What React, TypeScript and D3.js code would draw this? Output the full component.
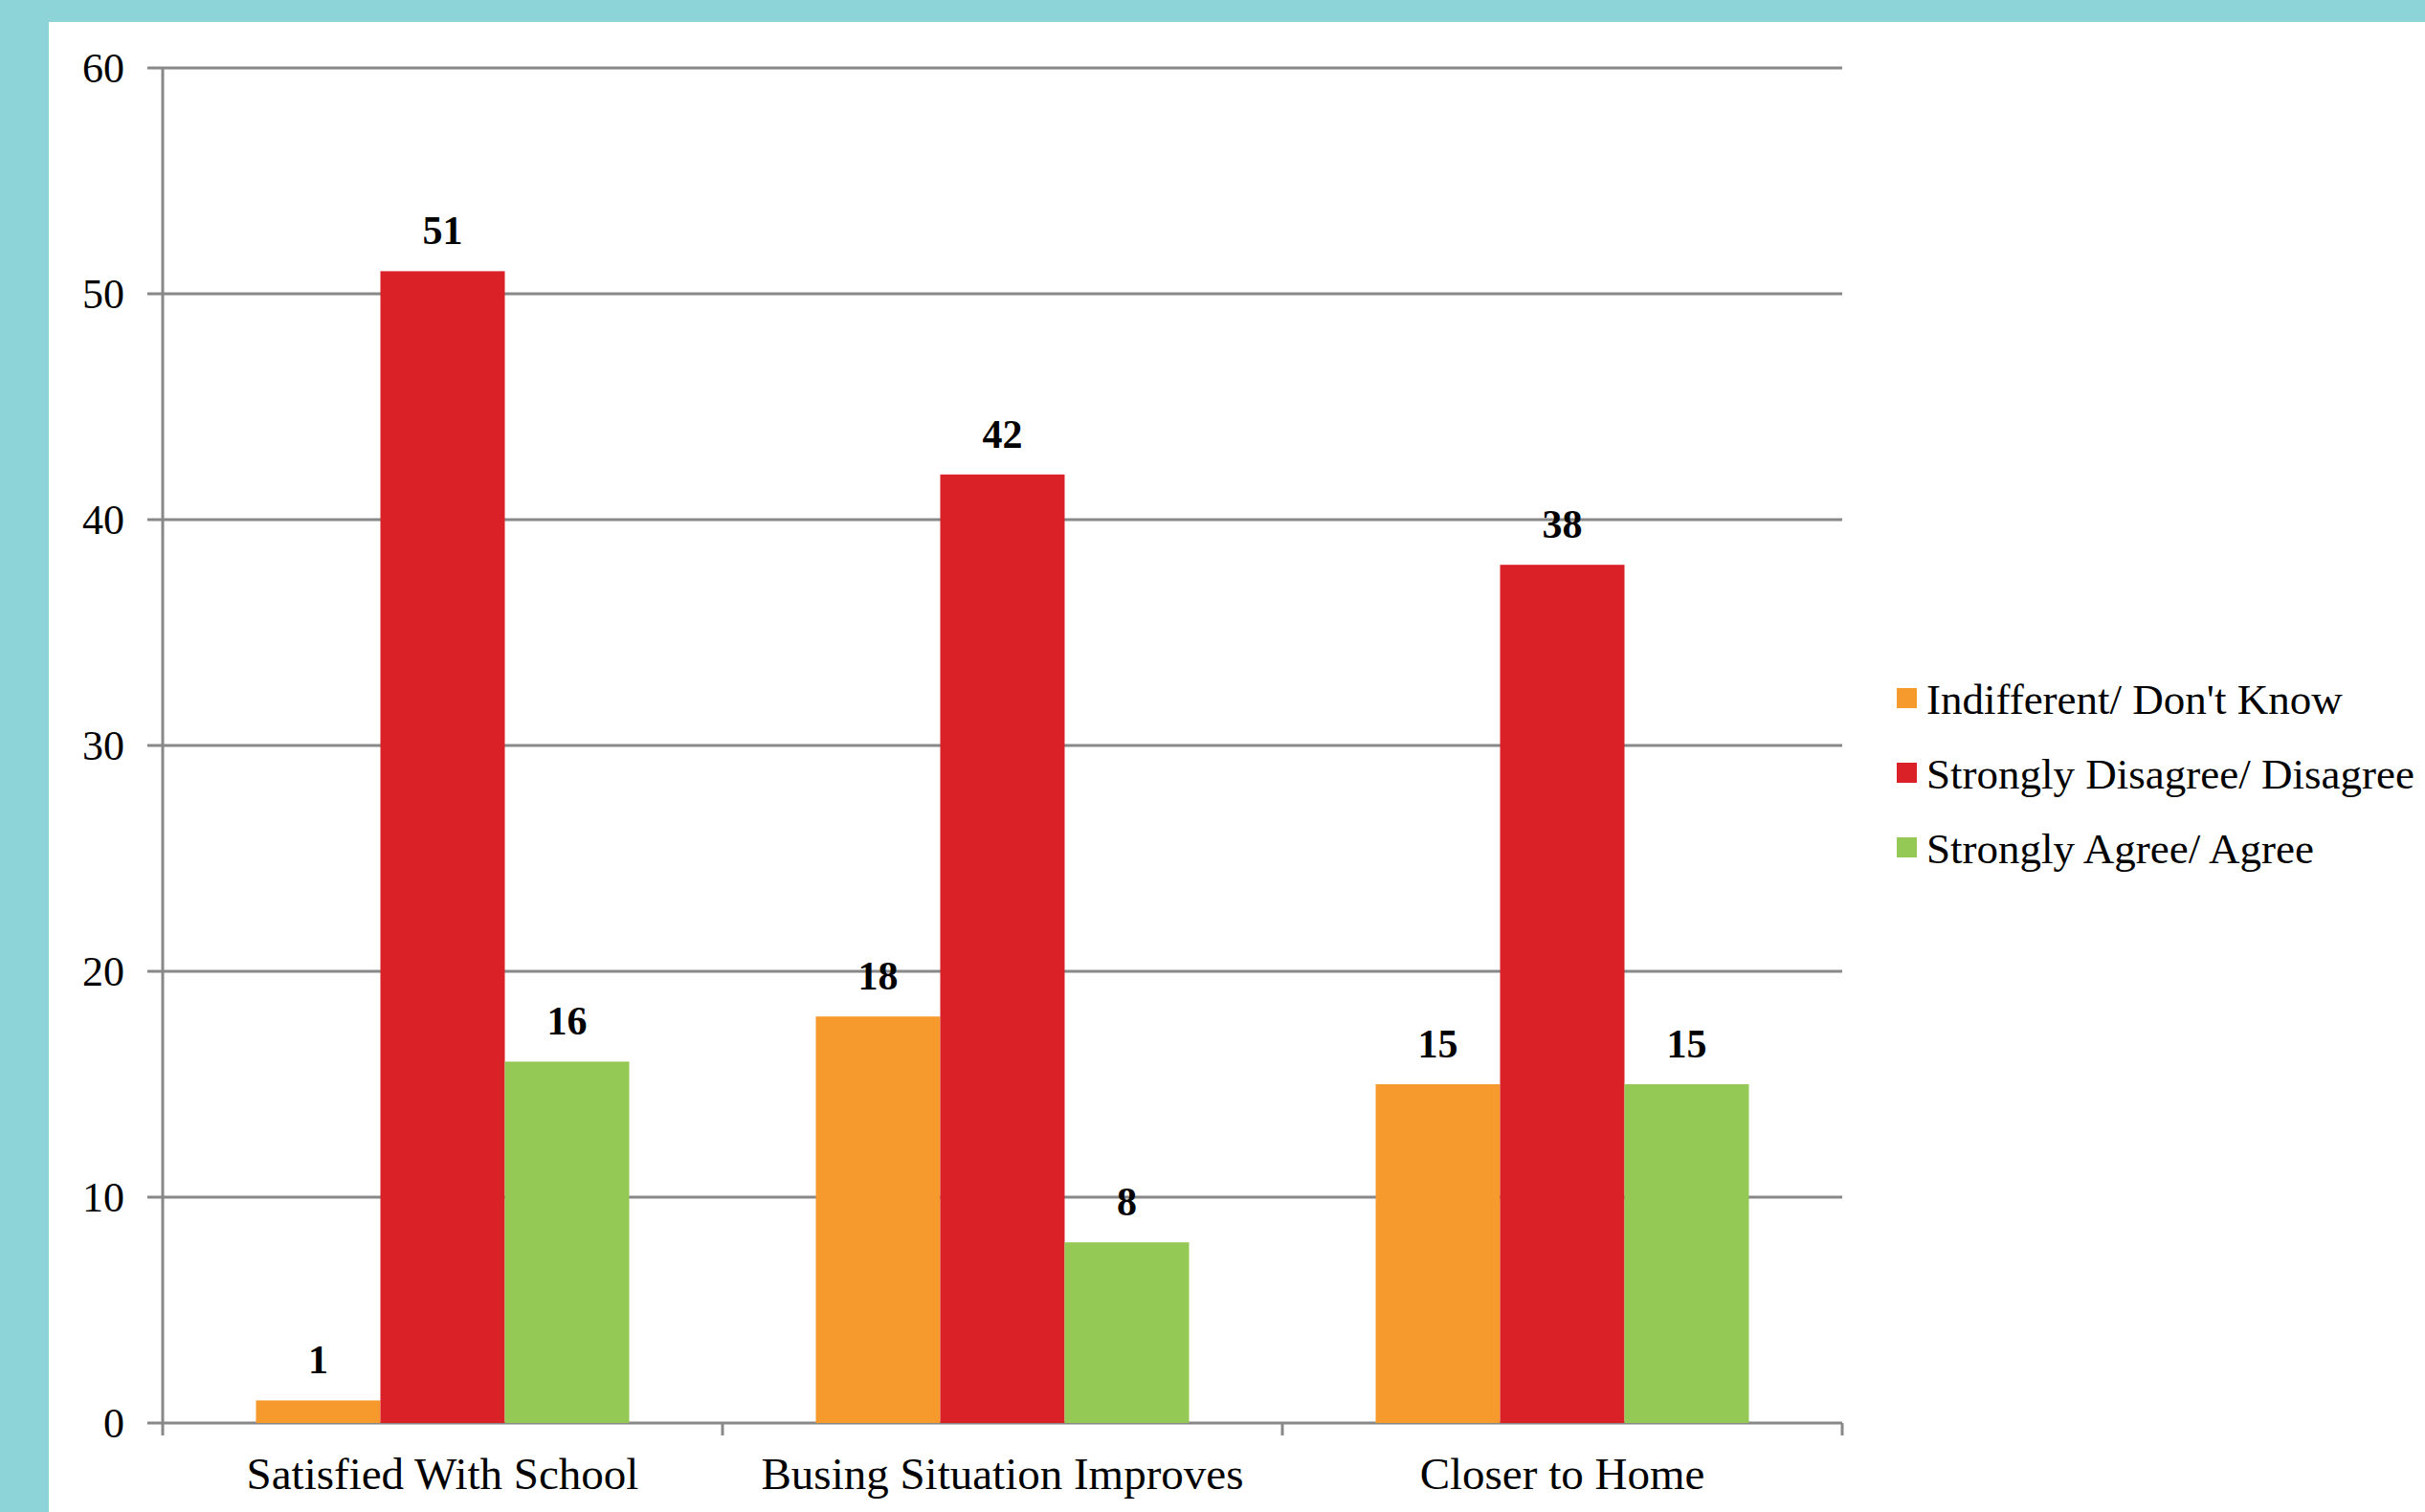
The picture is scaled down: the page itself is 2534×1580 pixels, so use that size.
import React from 'react';
import * as d3 from 'd3';

const categories = ['Satisfied With School', 'Busing Situation Improves', 'Closer to Home'];
const seriesNames = ['Indifferent/ Don\'t Know', 'Strongly Disagree/ Disagree', 'Strongly Agree/ Agree'];
const indifferent = [1, 18, 15];
const disagree = [51, 42, 38];
const agree = [16, 8, 15];
const yTicks = [0, 10, 20, 30, 40, 50, 60];

const colors = ['#F79A2E', '#DA2128', '#94C955'];
const teal = '#8DD4D8';
const gridColor = '#888888';
const width = 2534;
const height = 1580;
const margin = { left: 170, right: 609, top: 71, bottom: 93 };
const font = '"Liberation Serif", "DejaVu Serif", serif';

const values = [indifferent, disagree, agree];

const x = d3
  .scaleBand()
  .domain(categories)
  .range([margin.left, width - margin.right]);

const barWidth = x.bandwidth() / 4.5;

const inner = d3
  .scaleBand()
  .domain(seriesNames)
  .range([0, barWidth * 3]);

const y = d3
  .scaleLinear()
  .domain([0, 60])
  .range([height - margin.bottom, margin.top]);

const App = () => {
  const x0 = margin.left;
  const x1 = width - margin.right;
  const yBase = y(0);
  const boundaries = [...categories.map(c => x(c)), x1];

  return (
    <svg
      width={width}
      height={height}
      style={{ position: 'absolute', left: 0, top: 0, background: '#fff' }}
      fontFamily={font}
    >
      <rect x={0} y={0} width={width} height={23} fill={teal} />
      <rect x={0} y={0} width={51} height={height} fill={teal} />

      {yTicks.map(t => (
        <g key={t}>
          <line x1={x0 - 16} x2={x1} y1={y(t)} y2={y(t)} stroke={gridColor} strokeWidth={3} />
          <text x={130} y={y(t)} dy="0.35em" textAnchor="end" fontSize={44} fill="#000">
            {t}
          </text>
        </g>
      ))}

      <line x1={x0} x2={x0} y1={margin.top} y2={yBase + 13} stroke={gridColor} strokeWidth={3} />
      {boundaries.slice(1).map((b, i) => (
        <line key={i} x1={b} x2={b} y1={yBase} y2={yBase + 13} stroke={gridColor} strokeWidth={3} />
      ))}

      {categories.map((c, ci) => {
        const start = x(c) + (x.bandwidth() - barWidth * 3) / 2;
        return (
          <g key={c}>
            {seriesNames.map((s, si) => {
              const v = values[si][ci];
              const bx = start + inner(s);
              return (
                <g key={s}>
                  <rect x={bx} y={y(v)} width={inner.bandwidth()} height={yBase - y(v)} fill={colors[si]} />
                  <text
                    x={bx + inner.bandwidth() / 2}
                    y={y(v) - 28}
                    textAnchor="middle"
                    fontSize={42}
                    fontWeight="bold"
                    fill="#000"
                  >
                    {v}
                  </text>
                </g>
              );
            })}
            <text x={x(c) + x.bandwidth() / 2} y={1556} textAnchor="middle" fontSize={47} fill="#000">
              {c}
            </text>
          </g>
        );
      })}

      {seriesNames.map((s, i) => (
        <g key={s} transform={`translate(1982, ${730 + i * 78})`}>
          <rect x={0} y={-11} width={21} height={21} fill={colors[i]} />
          <text x={31} y={0} dy="0.35em" fontSize={45} fill="#000">
            {s}
          </text>
        </g>
      ))}
    </svg>
  );
};

export default App;
